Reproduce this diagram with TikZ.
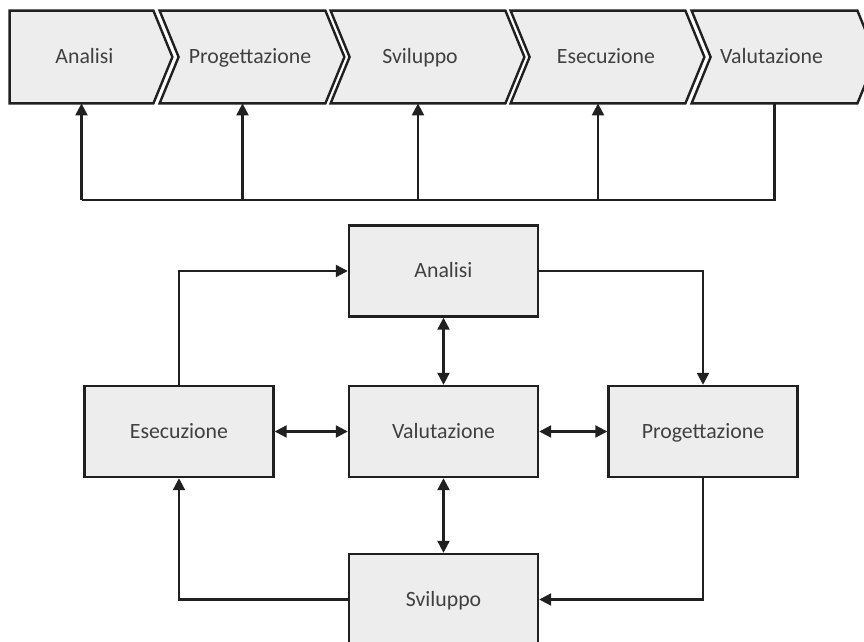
\documentclass[tikz,border=0pt]{standalone}
\usepackage{fontspec}
\setmainfont{Carlito}
\usetikzlibrary{arrows.meta,backgrounds}

\definecolor{boxfill}{HTML}{EDEDED}
\definecolor{boxline}{HTML}{202020}
\definecolor{boxtext}{HTML}{404040}

\newcommand{\pad}[1]{\hspace*{#1}}

\tikzset{
    stage/.style={minimum height=46pt, inner sep=0pt, text=boxtext,
        text height=9pt, text depth=2pt,
        font=\fontsize{10.9pt}{13pt}\selectfont},
    stepbox/.style={draw=boxline, fill=boxfill, line width=1.2pt,
        minimum width=94.5pt, minimum height=45.5pt, text=boxtext,
        text height=9pt, text depth=2pt,
        font=\fontsize{10.9pt}{13pt}\selectfont},
    chev/.style={draw=boxline, fill=boxfill, line width=1.2pt, line join=miter},
    link/.style={draw=boxline, line width=1.1pt},
    tip/.style={-{Triangle[length=6pt,width=6pt]}},
    both/.style={{Triangle[length=6pt,width=6pt]}-{Triangle[length=6pt,width=6pt]}}
}

\begin{document}
\begin{tikzpicture}[x=0.5pt, y=-0.5pt]
    \def\depth{9.5pt}
    \useasboundingbox (0,0) rectangle (864,642);
    \clip (0,0) rectangle (864,642);

    % fasi in sequenza
    \node[stage, minimum width=71.5pt] (s1) at (81.5,57) {\pad{3pt}Analisi};
    \node[stage, minimum width=82.5pt] (s2) at (242.5,57) {\pad{7.5pt}Progettazione};
    \node[stage, minimum width=87pt] (s3) at (418,57) {\pad{2pt}Sviluppo};
    \node[stage, minimum width=87pt] (s4) at (598,57) {\pad{8pt}Esecuzione};
    \node[stage, minimum width=82.5pt] (s5) at (774.5,57) {Valutazione\pad{3pt}};

    \begin{scope}[on background layer]
    \draw[chev] (s1.north west) -- (s1.north east) -- ([xshift=\depth]s1.east)
        -- (s1.south east) -- (s1.south west) -- cycle;
    \foreach \s in {s2,s3,s4,s5}
        \draw[chev] (\s.north west) -- (\s.north east) -- ([xshift=\depth]\s.east)
            -- (\s.south east) -- (\s.south west) -- ([xshift=\depth]\s.west) -- cycle;
    \end{scope}

    \coordinate (bus) at (0,200);
    \draw[link] (s5.south) -- (s5.south |- bus) -- (s1.south |- bus);
    \foreach \s in {s1,s2,s3,s4}
        \draw[link, tip] (\s.south |- bus) -- (\s.south);

    % ciclo
    \node[stepbox] (ana) at (443.5,271) {Analisi};
    \node[stepbox] (val) at (443.5,431.5) {Valutazione};
    \node[stepbox] (ese) at (179,431.5) {Esecuzione};
    \node[stepbox] (pro) at (703,431.5) {Progettazione};
    \node[stepbox] (svi) at (443.5,599.5) {Sviluppo};

    \draw[link, tip] (ese.north) |- (ana.west);
    \draw[link, tip] (ana.east) -| (pro.north);
    \draw[link, tip] (pro.south) |- (svi.east);
    \draw[link, tip] (svi.west) -| (ese.south);

    \draw[link, both] (ana.south) -- (val.north);
    \draw[link, both] (ese.east) -- (val.west);
    \draw[link, both] (val.east) -- (pro.west);
    \draw[link, both] (val.south) -- (svi.north);
\end{tikzpicture}
\end{document}
